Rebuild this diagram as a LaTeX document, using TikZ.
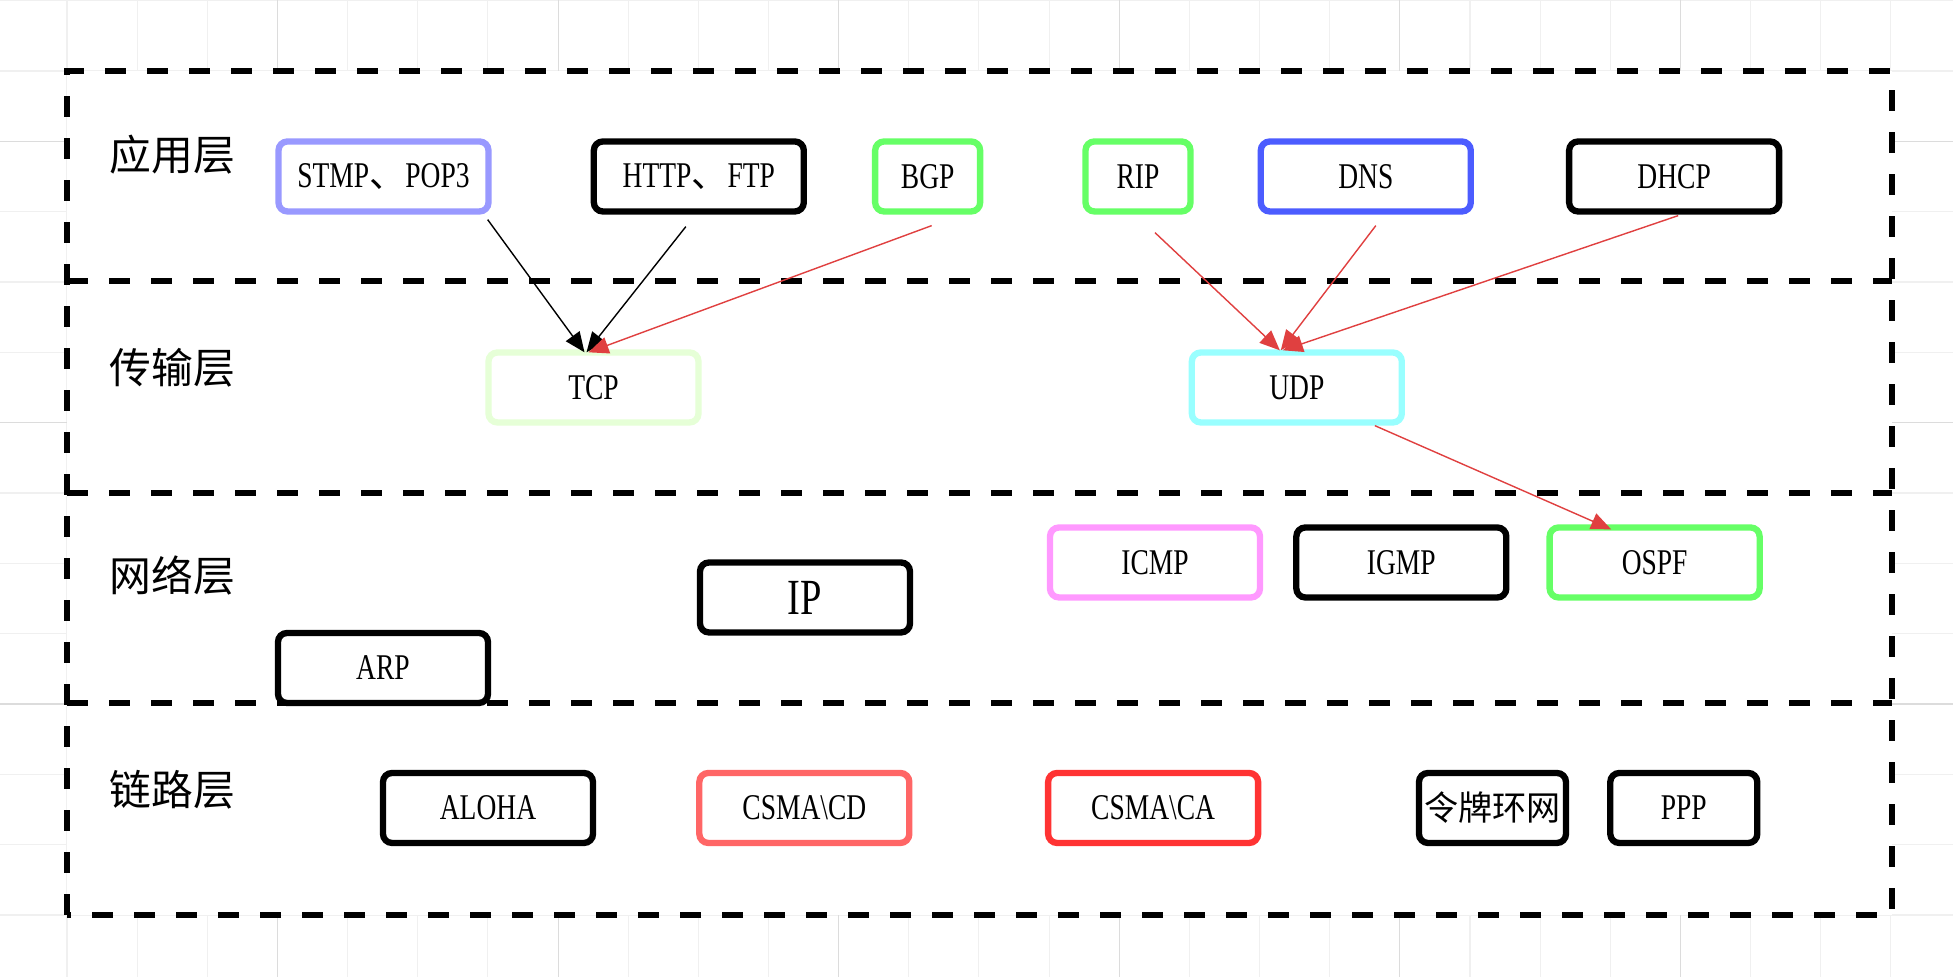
\documentclass[tikz,border=0pt]{standalone}
\usepackage{fontspec}
\setmainfont{Liberation Serif}[FakeStretch=0.76]
\newfontfamily\cjk{Noto Sans CJK SC}
\usepackage{tikz}
\usetikzlibrary{positioning, arrows.meta, calc}
\definecolor{GridLight}{RGB}{240,240,240}
\definecolor{GridDark}{RGB}{220,220,220}
\definecolor{Lav}{RGB}{153,153,255}
\definecolor{Lime}{RGB}{102,255,102}
\definecolor{Blue}{RGB}{76,92,255}
\definecolor{PaleGreen}{RGB}{230,255,215}
\definecolor{Cyan}{RGB}{153,255,255}
\definecolor{Pink}{RGB}{255,153,255}
\definecolor{Salmon}{RGB}{255,102,102}
\definecolor{Red}{RGB}{255,51,51}
\definecolor{ArrRed}{RGB}{224,64,64}
\tikzstyle{pr}=[%
      rectangle, rounded corners=0.09cm, draw=black, line width=1.8pt, fill=white,
      minimum height=0.70cm, minimum width=2.10cm, inner sep=1pt, align=center,
      font=\fontsize{10.3}{12}\selectfont
]
\tikzstyle{sm}=[pr, minimum width=1.05cm]
\tikzstyle{md}=[pr, minimum width=1.47cm]
\tikzstyle{layer}=[%
      anchor=west, inner sep=0pt, font=\cjk\fontsize{11.9}{14}\selectfont
]
\tikzstyle{layerbox}=[draw=black, line width=1.7pt, dash pattern=on 0.21cm off 0.21cm]
\tikzstyle{gridln}=[line width=0.3pt, draw=GridLight]
\tikzstyle{bl}=[->, black, line width=0.4pt]
\tikzstyle{rl}=[->, ArrRed, line width=0.4pt]

\begin{document}
\begin{tikzpicture}[auto,
    >={Triangle[length=5.7pt,width=4.8pt]}
  ]
    \useasboundingbox (0,0) rectangle (19.53,9.77);
    % background grid
    \begin{scope}
      \clip (0,0) rectangle (19.53,9.77);
      \draw[gridln, shift={(0.67,0.62)}, xstep=0.7015, ystep=0.7033] (-1.2,-1.2) grid (19.5,9.5);
      \draw[gridln, draw=GridDark, shift={(2.7745,2.7299)}, xstep=2.806, ystep=2.8132] (-3,-3) grid (17,8);
    \end{scope}

    % layers
    \draw[layerbox, fill=white] (0.67,0.62) rectangle (18.92,9.06);
    \foreach \y in {6.96,4.84,2.74}
      \draw[layerbox] (0.67,\y) -- (18.92,\y);

    \node[layer] (app)   at (1.09,8.22) {应用层};
    \node[layer] (trans) at (1.09,6.09) {传输层};
    \node[layer] (net)   at (1.09,4.01) {网络层};
    \node[layer] (link)  at (1.09,1.87) {链路层};

    \node[pr, draw=Lav]  (stmp) at (3.835,8.005)  {STMP{\cjk 、}POP3};
    \node[pr]            (http) [right = 0.99cm of stmp] {HTTP{\cjk 、}FTP};
    \node[sm, draw=Lime] (bgp)  [right = 0.65cm of http] {BGP};
    \node[sm, draw=Lime] (rip)  [right = 0.99cm of bgp]  {RIP};
    \node[pr, draw=Blue] (dns)  [right = 0.64cm of rip]  {DNS};
    \node[pr]            (dhcp) [right = 0.92cm of dns]  {DHCP};

    \node[pr, draw=PaleGreen] (tcp) at (5.935,5.895) {TCP};
    \node[pr, draw=Cyan]      (udp) [right = 4.87cm of tcp] {UDP};

    \node[pr, draw=Pink] (icmp) at (11.55,4.145) {ICMP};
    \node[pr]            (igmp) [right = 0.30cm of icmp] {IGMP};
    \node[pr, draw=Lime] (ospf) [right = 0.37cm of igmp] {OSPF};
    \node[pr, font=\fontsize{14.4}{17}\selectfont] (ip) at (8.05,3.795) {IP};
    \node[pr]            (arp)  at (3.83,3.09) {ARP};

    \node[pr]              (aloha)  at (4.88,1.69) {ALOHA};
    \node[pr, draw=Salmon] (csmacd) [right = 1.00cm of aloha]  {CSMA\textbackslash CD};
    \node[pr, draw=Red]    (csmaca) [right = 1.325cm of csmacd] {CSMA\textbackslash CA};
    \node[md]              (token)  [right = 1.545cm of csmaca] {\cjk\fontsize{9.7}{12}\selectfont 令牌环网};
    \node[md]              (ppp)    [right = 0.38cm of token]   {PPP};

    \path ([shift={(-0.04,-0.05)}]stmp.south east) edge[bl] ([shift={(-0.09,-0.03)}]tcp.north)
          ([shift={(-0.13,-0.12)}]http.south) edge[bl] ([shift={(-0.07,-0.03)}]tcp.north)
          ([shift={(0.04,-0.11)}]bgp.south)   edge[rl] ([shift={(-0.05,-0.03)}]tcp.north)
          ([shift={(0.17,-0.18)}]rip.south)   edge[rl] ([shift={(-0.17,-0.01)}]udp.north)
          ([shift={(0.10,-0.11)}]dns.south)   edge[rl] ([shift={(-0.16,-0.01)}]udp.north)
          ([shift={(0.04,-0.01)}]dhcp.south)  edge[rl] ([shift={(-0.14,-0.01)}]udp.north)
          ([xshift=0.78cm]udp.south)          edge[rl] ([shift={(-0.435,-0.05)}]ospf.north)
    ;

  \end{tikzpicture}
\end{document}
